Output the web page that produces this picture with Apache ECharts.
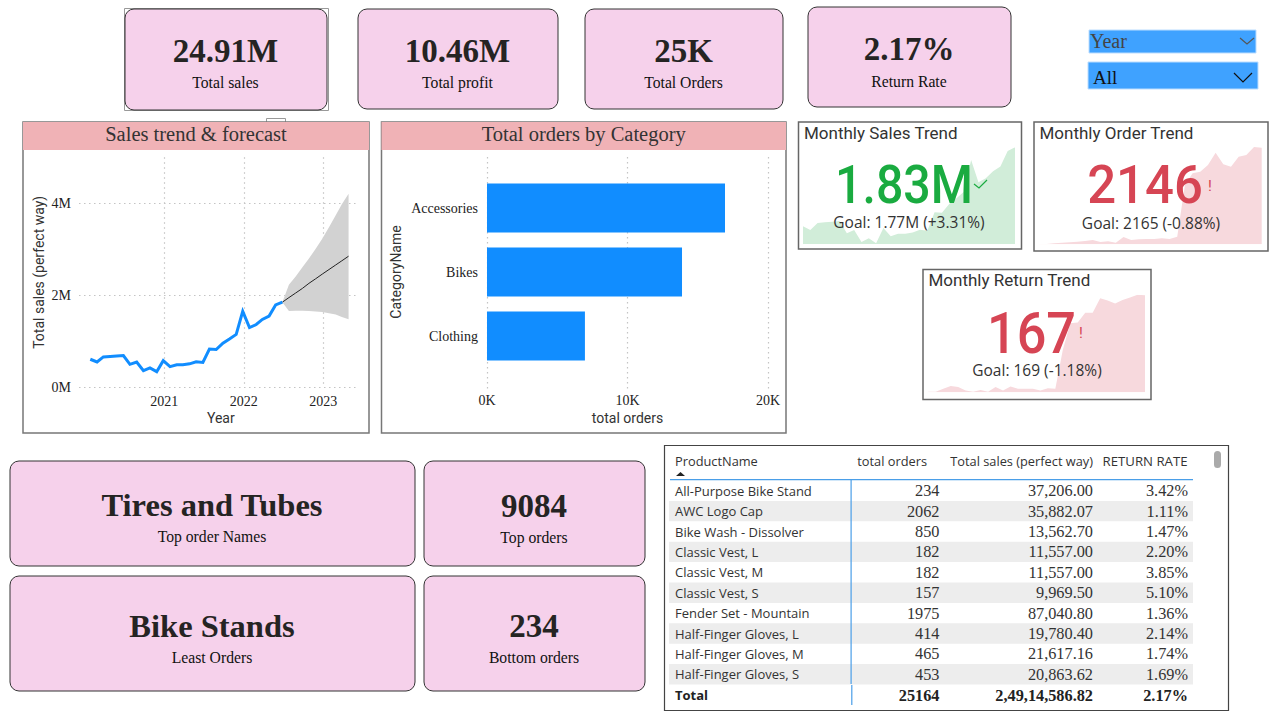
<!DOCTYPE html>
<html><head><meta charset="utf-8">
<style>html,body{margin:0;padding:0;background:#fff}#c{width:1288px;height:723px}</style>
<script src="https://cdn.jsdelivr.net/npm/echarts@6/dist/echarts.min.js"></script>
</head><body><div id="c"></div>
<script>
// ---- data ----
const historyDates = ['2020-01-27','2020-02-27','2020-03-27','2020-04-27','2020-05-27','2020-06-27','2020-07-27','2020-08-27','2020-09-27','2020-10-27','2020-11-27','2020-12-27','2021-01-27','2021-02-27','2021-03-27','2021-04-27','2021-05-27','2021-06-27','2021-07-27','2021-08-27','2021-09-27','2021-10-27','2021-11-27','2021-12-27','2022-01-27','2022-02-27','2022-03-27','2022-04-27','2022-05-27','2022-06-27'];
const salesHistory = [0.61,0.55,0.66,0.67,0.68,0.69,0.50,0.55,0.36,0.42,0.34,0.58,0.45,0.49,0.49,0.51,0.555,0.54,0.83,0.82,0.96,1.05,1.15,1.65,1.30,1.365,1.475,1.55,1.79,1.85];
const forecastDates = ['2022-06-27','2022-07-27','2022-08-27','2022-09-27','2022-10-27','2022-11-27','2022-12-27','2023-01-27','2023-02-27','2023-03-27','2023-04-27'];
const forecastMean = [1.85,1.95,2.05,2.15,2.26,2.36,2.46,2.56,2.66,2.75,2.85];
const forecastUpper = [1.85,2.23,2.41,2.61,2.80,3.01,3.23,3.48,3.74,3.98,4.21];
const forecastLower = [1.85,1.66,1.665,1.665,1.66,1.65,1.635,1.61,1.585,1.53,1.48];
const categories = ['Accessories','Bikes','Clothing'];
const categoryOrders = [16940,13880,6970];
const monthlyOrders = [7,7,22,37,44,59,74,96,52,67,37,163,96,111,118,118,133,118,170,1317,1576,1613,1761,2035,1776,1724,1946,1983,2161,2146];
const monthlyReturns = [1,1,6,11,9,3,1,4,1,9,3,10,6,6,6,3,7,6,73,119,120,137,137,162,158,153,159,163,168,167];
const productNames = ['All-Purpose Bike Stand','AWC Logo Cap','Bike Wash - Dissolver','Classic Vest, L','Classic Vest, M','Classic Vest, S','Fender Set - Mountain','Half-Finger Gloves, L','Half-Finger Gloves, M','Half-Finger Gloves, S'];
const productOrders = ['234','2062','850','182','182','157','1975','414','465','453'];
const productSales = ['37,206.00','35,882.07','13,562.70','11,557.00','11,557.00','9,969.50','87,040.80','19,780.40','21,617.16','20,863.62'];
const productRates = ['3.42%','1.11%','1.47%','2.20%','3.85%','5.10%','1.36%','2.14%','1.74%','1.69%'];
const tableHeaders = ['ProductName','total orders','Total sales (perfect way)','RETURN RATE'];
const tableTotals = ['Total','25164','2,49,14,586.82','2.17%'];

// ---- styling ----
const SERIF = '"Liberation Serif","Times New Roman",serif';
const SANS = '"Open Sans","Noto Sans",sans-serif';
const DIN = 'Roboto,"Noto Sans",sans-serif';
const PINK = '#F6D1EB', HEADER = '#F0B2B6', BLUE = '#118DFF', DARK = '#252423';
const GREEN = '#1AAB40', RED = '#D64554';

const g = [];
const rect = (x,y,w,h,o={}) => g.push({type:'rect',z:o.z??1,silent:true,shape:{x,y,width:w,height:h,r:o.r||0},style:{fill:o.fill||'none',stroke:o.stroke||'none',lineWidth:o.lw??1}});
const text = (x,y,t,font,fill,align='center',sx=1) => g.push({type:'text',z:50,silent:true,x,y,scaleX:sx,style:{text:t,font,fill,align,verticalAlign:'middle'}});
const poly = (points,stroke,lw=1.2) => g.push({type:'polyline',z:50,silent:true,shape:{points},style:{stroke,lineWidth:lw,fill:'none'}});
const card = (x,y,w,h,val,lab,valSize,vy,ly) => {
  rect(x,y,w,h,{fill:PINK,stroke:'#333',r:9});
  text(x+w/2-0.5,vy,val,`bold ${valSize}px ${SERIF}`,DARK);
  text(x+w/2-0.5,ly,lab,`15.7px ${SERIF}`,'#111');
};
// KPI cards
rect(124.5,8.5,204,102,{stroke:'#999'});
card(125,9,202,101,'24.91M','Total sales',33,50.5,82);
card(358,9,200,100,'10.46M','Total profit',33,50.5,82);
card(585,9,198,100,'25K','Total Orders',33,50.5,82);
card(808,7,203,100,'2.17%','Return Rate',33,48.5,81);
rect(266.5,118.5,19,5,{stroke:'#999',fill:'#fff'});
// slicers
rect(1089,30,167,23,{fill:'#3FA2FF',stroke:'#BBDDFF'});
text(1090,41,'Year',`20px ${SERIF}`,'#444','left');
poly([[1240,38],[1247,44],[1254,38]],'#555');
rect(1088,62,170,27,{fill:'#3FA2FF',stroke:'#BBDDFF'});
text(1093,77,'All',`19px ${SERIF}`,'#111','left');
poly([[1234,73],[1243,82],[1252,73]],'#111');
// chart frames
const frame = (x,y,w,h,t) => {
  rect(x,y,w,h,{fill:'#fff',stroke:'#777',lw:1.5});
  rect(x,y,w,28,{fill:HEADER,z:2});
  text(x+w/2,y+11.5,t,`20.5px ${SERIF}`,'#333');
};
frame(23,122,346,311,'Sales trend & forecast');
frame(381.5,122,404.5,311,'Total orders by Category');
// KPI visuals
const kpi = (x,y,w,h,title,val,color,goal,vx,vy,vs,sx,gx,gy) => {
  rect(x,y,w,h,{fill:'#fff',stroke:'#666',lw:1.5});
  text(x+5.5,y+10.5,title,`17px ${DIN}`,'#333','left');
  text(vx,vy,val,`500 ${vs}px ${DIN}`,color,'center',sx);
  text(gx,gy,goal,`15.5px ${SANS}`,'#333');
};
kpi(798.5,122,223,127,'Monthly Sales Trend','1.83M',GREEN,'Goal: 1.77M (+3.31%)',904,185,53,0.91,909,222);
kpi(1034,122,234,129,'Monthly Order Trend','2146',RED,'Goal: 2165 (-0.88%)',1145,185,53,0.96,1151,223);
kpi(923,269.5,228,130,'Monthly Return Trend','167',RED,'Goal: 169 (-1.18%)',1031.5,333.5,58,0.9,1037,370);
poly([[974,184],[979,188],[987,180]],GREEN);
text(1210,186,'!',`15px ${DIN}`,RED);
text(1081,333,'!',`15px ${DIN}`,RED);
// lower cards
card(10,461,405,105,'Tires and Tubes','Top order Names',32.5,505,536.5);
card(424,461,221,105,'9084','Top orders',33,506,537.5);
card(10,576,405,115,'Bike Stands','Least Orders',32.5,626,657.5);
card(424,576,221,115,'234','Bottom orders',33,626,657.5);
// table
rect(664.5,445.5,564,265,{fill:'#fff',stroke:'#444',lw:1.2});
rect(1214,451,7,17,{fill:'#AAAAAA',r:3.5,z:3});
const colRight = [0,939.5,1093,1188];
text(675,461,tableHeaders[0],`12.8px ${SANS}`,'#333','left');
text(927,461,tableHeaders[1],`12.8px ${SANS}`,'#333','right');
text(1093,461,tableHeaders[2],`12.8px ${SANS}`,'#333','right');
text(1187.5,461,tableHeaders[3],`13.2px ${SANS}`,'#333','right');
g.push({type:'polygon',z:3,silent:true,shape:{points:[[676,476],[680.5,472],[685,476]]},style:{fill:'#222'}});
const rowH = 20.4, rowTop = 480.5;
productNames.forEach((n,i)=>{
  const cy = rowTop + rowH*i + 10.2;
  if(i%2===1) rect(669,rowTop+rowH*i,524,rowH,{fill:'#EDEDED',z:2});
  text(675,cy,n,`13px ${SANS}`,'#333','left');
  text(colRight[1],cy,productOrders[i],`16.3px ${SERIF}`,'#333','right');
  text(colRight[2],cy,productSales[i],`16.3px ${SERIF}`,'#333','right');
  text(colRight[3],cy,productRates[i],`16.3px ${SERIF}`,'#333','right');
});
rect(670,479,523,1.3,{fill:'#4A9EE8',z:4});
rect(850.5,480,1.2,204,{fill:'#4A9EE8',z:4});
rect(851.2,685,1.2,20,{fill:'#4A9EE8',z:4});
text(675,695,tableTotals[0],`bold 13px ${SANS}`,'#222','left');
text(colRight[1],695,tableTotals[1],`bold 16.3px ${SERIF}`,'#222','right');
text(colRight[2],695,tableTotals[2],`bold 16.3px ${SERIF}`,'#222','right');
text(colRight[3],695,tableTotals[3],`bold 16.3px ${SERIF}`,'#222','right');

// ---- chart ----
const AXZ = 5;
const dotted = {show:true,lineStyle:{type:[1.5,3.5],color:'#C4C4C4',width:1.2}};
const sparkAxes = (gi,min,max) => ({
  x:{type:'category',gridIndex:gi,show:false,boundaryGap:false,data:historyDates},
  y:{type:'value',gridIndex:gi,show:false,min,max,splitLine:{show:false}}
});
const sparks = [
  sparkAxes(2,0.33,1.85), sparkAxes(3,0,2161), sparkAxes(4,0,168)
];
const spark = (gi,data,fill) => ({type:'line',xAxisIndex:gi,yAxisIndex:gi,data,symbol:'none',silent:true,lineStyle:{width:0},areaStyle:{color:fill,opacity:1},z:6});
const pair = (ds,vs) => ds.map((d,i)=>[d,vs[i]]);
const axisName = {fontFamily:DIN,fontSize:14,color:'#333'};
const tickLabel = {fontFamily:SERIF,fontSize:14,color:'#222'};

const option = {
  animation:false,
  graphic:{elements:g},
  textStyle:{fontFamily:SERIF},
  grid:[
    {left:85.5,top:157.3,width:270.7,height:230},
    {left:487,top:176,width:281,height:192},
    {left:803,top:147.3,width:212,height:96.7},
    {left:1039,top:147,width:222.7,height:97.3},
    {left:928.3,top:294.7,width:216.7,height:97.6},
    {left:487,top:157,width:281,height:234},
    {left:79,top:157.3,width:278,height:230}
  ],
  xAxis:[
    {type:'time',gridIndex:0,z:AXZ,min:'2020-01-05',max:'2023-06-01',minInterval:365*864e5,
     axisLine:{show:false},axisTick:{show:false},splitLine:{...dotted,showMinLine:false,showMaxLine:false},
     axisLabel:{...tickLabel,formatter:'{yyyy}',margin:7,showMinLabel:false,showMaxLabel:false},
     name:'Year',nameLocation:'middle',nameGap:24,nameTextStyle:axisName},
    {type:'value',gridIndex:1,show:false,min:0,max:20000,interval:10000,splitLine:{show:false}},
    sparks[0].x,sparks[1].x,sparks[2].x,
    {type:'value',gridIndex:5,z:AXZ,min:0,max:20000,interval:10000,
     axisLine:{show:false},axisTick:{show:false},splitLine:dotted,
     axisLabel:{...tickLabel,formatter:v=>(v/1000)+'K',margin:2.5},
     name:'total orders',nameLocation:'middle',nameGap:20,nameTextStyle:axisName},
    {type:'value',gridIndex:6,show:false,min:0,max:1,splitLine:{show:false}}
  ],
  yAxis:[
    {type:'value',gridIndex:0,show:false,min:0,max:5,splitLine:{show:false}},
    {type:'category',gridIndex:1,z:AXZ,inverse:true,data:categories,
     axisLine:{show:false},axisTick:{show:false},splitLine:{show:false},
     axisLabel:{...tickLabel,margin:9},
     name:'CategoryName',nameLocation:'middle',nameGap:84,nameTextStyle:axisName},
    sparks[0].y,sparks[1].y,sparks[2].y,
    {type:'value',gridIndex:5,show:false,min:0,max:1,splitLine:{show:false}},
    {type:'value',gridIndex:6,z:AXZ,min:0,max:5,interval:2,
     axisLine:{show:false},axisTick:{show:false},
     splitLine:{...dotted,showMaxLine:false},
     axisLabel:{...tickLabel,formatter:v=>v+'M',margin:8,showMaxLabel:false},
     name:'Total sales (perfect way)',nameLocation:'middle',nameGap:33,nameTextStyle:axisName}
  ],
  series:[
    {type:'line',xAxisIndex:0,yAxisIndex:0,stack:'band',data:pair(forecastDates,forecastLower),symbol:'none',silent:true,lineStyle:{width:0},z:6},
    {type:'line',xAxisIndex:0,yAxisIndex:0,stack:'band',data:pair(forecastDates,forecastUpper.map((u,i)=>+(u-forecastLower[i]).toFixed(3))),symbol:'none',silent:true,lineStyle:{width:0},areaStyle:{color:'#D2D2D2',opacity:1},z:6},
    {type:'line',xAxisIndex:0,yAxisIndex:0,data:pair(forecastDates,forecastMean),symbol:'none',silent:true,lineStyle:{color:'#222',width:1},z:7},
    {type:'line',xAxisIndex:0,yAxisIndex:0,data:pair(historyDates,salesHistory),symbol:'none',silent:true,lineStyle:{color:BLUE,width:3,join:'miter'},z:8},
    {type:'bar',xAxisIndex:1,yAxisIndex:1,data:categoryOrders,barWidth:49,silent:true,itemStyle:{color:BLUE},z:6},
    spark(2,salesHistory,'#D1EDD9'),
    spark(3,monthlyOrders,'#F7D9DD'),
    spark(4,monthlyReturns,'#F7D9DD')
  ]
};
const chart = echarts.init(document.getElementById('c'),null,{renderer:'svg',width:1288,height:723});
chart.setOption(option);
</script></body></html>
